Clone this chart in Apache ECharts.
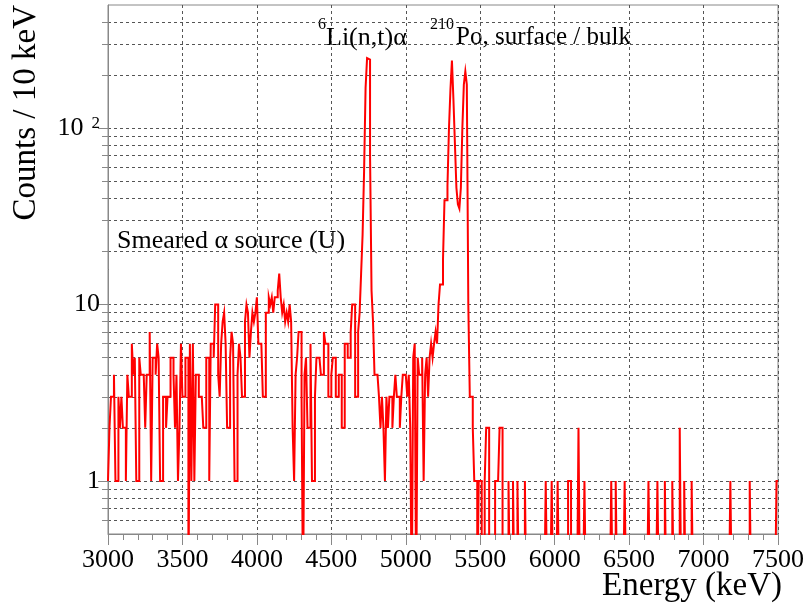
<!DOCTYPE html>
<html><head><meta charset="utf-8">
<script src="https://cdn.jsdelivr.net/npm/echarts@6/dist/echarts.min.js"></script>
<style>html,body{margin:0;padding:0;background:#fff}#c{width:807px;height:612px}</style>
</head><body><div id="c"></div>
<script>
// Histogram: 10 keV bins from 3000 to 7500 keV
const binStart = 3000;
const binWidth = 10;
const counts = [
  1,2,3,3,4,1,1,3,2,3,   // 3000
  2,2,1,4,3,3,6,4,5,1,   // 3100
  1,5,4,4,4,2,4,4,7,1,   // 3200
  5,5,4,6,5,1,1,3,3,2,   // 3300
  3,3,5,5,4,2,4,1,2,6,   // 3400
  3,3,5,5,0,6,1,6,1,4,   // 3500
  4,3,3,3,2,2,5,5,1,6,   // 3600
  6,5,10,10,4,3,6,8,9,6, // 3700
  2,2,5,7,6,1,1,4,6,5,   // 3800
  3,3,8,10,9,5,7,9,8,9,  // 3900
  11,6,6,6,3,3,9,9,11,10, // 4000
  11,9,11,11,12,15,11,9,10,8, // 4100
  9,8,10,8,2,1,4,5,7,7,  // 4200
  3,0,4,5,2,2,6,1,1,3,   // 4300
  5,5,5,4,4,7,6,6,3,3,   // 4400
  4,5,5,3,3,4,4,2,2,6,   // 4500
  6,5,5,7,10,10,3,3,7,9, // 4600
  15,25,57,169,250,245,71,12,8,4, // 4700
  4,4,3,2,3,2,1,3,2,3,   // 4800
  3,2,3,4,3,3,2,3,4,4,   // 4900
  4,3,4,2,0,5,6,0,5,4,   // 5000
  4,5,1,4,5,3,5,6,5,6,   // 5100
  7,6,10,13,13,18,39,39,47,99,      // 5200
  166,242,146,82,46,37,35,46,100,177, // 5300
  210,177,10,3,3,2,1,1,0,1, // 5400
  1,0,0,1,2,2,0,0,0,0,   // 5500
  1,1,1,2,2,0,0,0,0,1,   // 5600
  0,0,1,0,0,1,0,0,0,0,   // 5700
  1,0,0,0,0,0,0,0,0,0,   // 5800
  0,0,0,0,1,0,0,0,1,0,   // 5900
  0,0,1,0,0,0,0,0,0,1,   // 6000
  1,0,0,0,0,0,2,0,0,0,   // 6100
  1,0,0,0,0,0,0,0,0,0,   // 6200
  0,0,0,0,0,0,0,0,1,0,   // 6300
  0,1,0,0,0,0,0,1,0,0,   // 6400
  0,0,0,0,0,0,0,0,0,0,   // 6500
  0,0,0,1,0,0,0,0,0,1,   // 6600
  0,0,0,0,1,0,0,0,0,1,   // 6700
  0,0,0,0,2,0,0,1,0,0,   // 6800
  0,0,1,0,0,0,0,0,0,0,   // 6900
  0,0,0,0,0,0,0,0,0,0,   // 7000
  0,0,0,0,0,0,0,0,1,0,   // 7100
  0,0,0,0,0,0,0,0,0,0,   // 7200
  0,1,0,0,0,0,0,0,0,0,   // 7300
  0,0,0,0,0,0,0,0,0,1    // 7400
];
const xTicks = [3000,3500,4000,4500,5000,5500,6000,6500,7000,7500];
const yMajorTicks = [1,10,100];
const yMinorTicks = [0.6,0.7,0.8,0.9,2,3,4,5,6,7,8,9,20,30,40,50,60,70,80,90,200,300,400];
const annotations = {
  smeared: 'Smeared \u03b1 source (U)',
  liSup: '6', li: 'Li(n,t)\u03b1',
  poSup: '210', po: 'Po, surface / bulk'
};

const FONT = 'Liberation Serif';
const ZERO_FLOOR = 0.2; // empty bins drawn down past the frame bottom
// histogram outline: each bin contributes its left and right edge at its height
const pts = [];
counts.forEach((c, i) => {
  const v = c > 0 ? c : ZERO_FLOOR;
  pts.push([binStart + i * binWidth, v]);
  pts.push([binStart + (i + 1) * binWidth, v]);
});

const gridLine = {show: true, lineStyle: {color: '#555', width: 1, type: [3, 3]}};
const chart = echarts.init(document.getElementById('c'));
chart.setOption({
  animation: false,
  backgroundColor: '#fff',
  grid: {left: 108, right: 25, top: 5, bottom: 78, show: true, borderColor: '#888', borderWidth: 1},
  xAxis: {
    type: 'value', min: 3000, max: 7500, interval: 500,
    axisLine: {show: true, lineStyle: {color: '#888', width: 1}},
    axisTick: {show: true, length: 11, lineStyle: {color: '#888'}},
    minorTick: {show: true, splitNumber: 5, length: 6, lineStyle: {color: '#888'}},
    axisLabel: {fontFamily: FONT, fontSize: 26, color: '#000', margin: 13,
      customValues: xTicks, formatter: v => String(v)},
    splitLine: gridLine
  },
  yAxis: [{
    type: 'log', logBase: 10, min: 0.5, max: 500,
    axisLine: {show: true, lineStyle: {color: '#888', width: 1}},
    axisTick: {show: true, length: 10, customValues: yMajorTicks, lineStyle: {color: '#888'}},
    axisLabel: {
      customValues: yMajorTicks, margin: 8, color: '#000',
      formatter: v => v === 100 ? '{m|10}{s|2}' : '{m|' + v + '}',
      rich: {
        m: {fontFamily: FONT, fontSize: 26, color: '#000'},
        s: {fontFamily: FONT, fontSize: 17, color: '#000', verticalAlign: 'top', padding: [0, 0, 10, 8]}
      }
    },
    splitLine: gridLine
  }, {
    type: 'log', logBase: 10, min: 0.5, max: 500, position: 'left',
    axisLine: {show: false},
    axisTick: {show: true, length: 6, customValues: yMinorTicks, lineStyle: {color: '#888'}},
    axisLabel: {show: false},
    splitLine: gridLine
  }],
  series: [{
    type: 'line', data: pts, xAxisIndex: 0, yAxisIndex: 0,
    showSymbol: false, symbol: 'none', clip: true, z: 5,
    lineStyle: {color: '#ff0000', width: 2, join: 'miter'}
  }],
  graphic: [
    {type: 'text', left: 117, top: 228, style: {text: annotations.smeared, font: '26px "Liberation Serif"', fill: '#000'}},
    {type: 'text', left: 318, top: 17, style: {
      text: '{s|' + annotations.liSup + '}{n|' + annotations.li + '}',
      rich: {s: {font: '16px "Liberation Serif"', fill: '#000', verticalAlign: 'top'},
             n: {font: '26px "Liberation Serif"', fill: '#000', padding: [8, 0, 0, 0]}}}},
    {type: 'text', left: 430, top: 17, style: {
      text: '{s|' + annotations.poSup + '}{n|' + annotations.po + '}',
      rich: {s: {font: '16px "Liberation Serif"', fill: '#000', verticalAlign: 'top'},
             n: {font: '25px "Liberation Serif"', fill: '#000', padding: [8, 0, 0, 2]}}}},
    {type: 'text', right: 25, top: 570, style: {text: 'Energy (keV)', font: '33px "Liberation Serif"', fill: '#000'}},
    {type: 'text', left: 10, top: 5, style: {text: 'Counts / 10 keV', font: '33px "Liberation Serif"', fill: '#000'},
      rotation: Math.PI / 2, originX: 0, originY: 0}
  ]
});
</script>
</body></html>
